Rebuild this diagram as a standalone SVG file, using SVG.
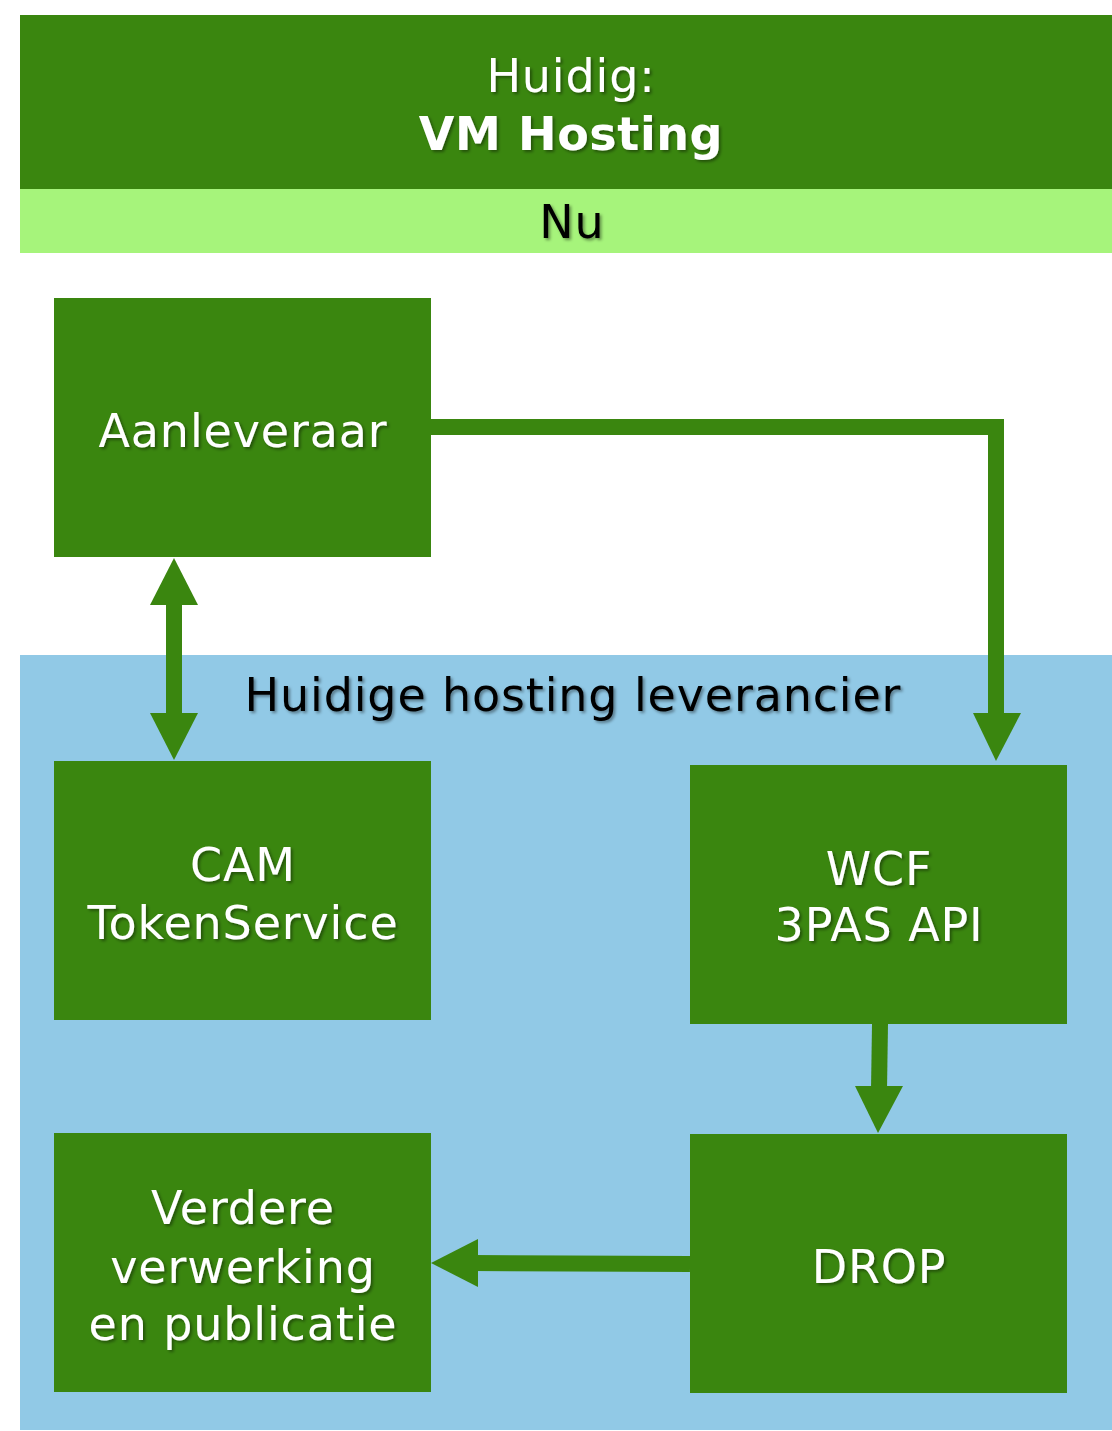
<svg xmlns="http://www.w3.org/2000/svg" width="1112" height="1431" viewBox="0 0 1112 1431">
<style>
.node{fill:#3A860F}
.t{font-family:"DejaVu Sans","Verdana",sans-serif;font-size:46px;fill:#fff;text-anchor:middle;letter-spacing:0.85px;filter:url(#sh)}
.k{fill:#000}
.b{font-weight:bold;letter-spacing:0.6px}
.c{fill:#3A860F}
.ln{stroke:#3A860F;stroke-width:16;fill:none}
</style>
<defs>
<filter id="sh" x="-10%" y="-20%" width="120%" height="150%">
<feDropShadow dx="2" dy="2" stdDeviation="1.5" flood-color="#000" flood-opacity="0.4"/>
</filter>
</defs>
<rect width="1112" height="1431" fill="#fff"/>
<g id="header">
<rect x="20" y="15" width="1092" height="174" fill="#3A860F"/>
<text class="t" x="571" y="92">Huidig:</text>
<text class="t b" x="571" y="150">VM Hosting</text>
</g>
<g id="nu">
<rect x="20" y="189" width="1092" height="64" fill="#A6F47B"/>
<text class="t k" x="572" y="238">Nu</text>
</g>
<g id="container">
<rect x="20" y="655" width="1092" height="775" fill="#91C9E6"/>
<text class="t k" x="573" y="711">Huidige hosting leverancier</text>
</g>
<g id="aanleveraar">
<rect class="node" x="54" y="298" width="377" height="259"/>
<text class="t" x="243" y="447">Aanleveraar</text>
</g>
<g id="cam">
<rect class="node" x="54" y="761" width="377" height="259"/>
<text class="t" x="243" y="881">CAM</text>
<text class="t" x="243" y="939">TokenService</text>
</g>
<g id="wcf">
<rect class="node" x="690" y="765" width="377" height="259"/>
<text class="t" x="879" y="885">WCF</text>
<text class="t" x="879" y="941">3PAS API</text>
</g>
<g id="verdere">
<rect class="node" x="54" y="1133" width="377" height="259"/>
<text class="t" x="243" y="1224">Verdere</text>
<text class="t" x="243" y="1283">verwerking</text>
<text class="t" x="243" y="1340">en publicatie</text>
</g>
<g id="drop">
<rect class="node" x="690" y="1134" width="377" height="259"/>
<text class="t" x="879" y="1283">DROP</text>
</g>
<g id="connectors">
<line class="ln" x1="174" y1="600" x2="174" y2="718"/>
<polygon class="c" points="174,558 198,605 150,605"/>
<polygon class="c" points="174,760 198,713 150,713"/>
<polyline class="ln" points="431,427 996,427 996,718"/>
<polygon class="c" points="996,761 1021,713 973,713"/>
<line class="ln" x1="880" y1="1024" x2="879" y2="1090"/>
<polygon class="c" points="878,1133 903,1086 855,1086"/>
<line class="ln" x1="690" y1="1264" x2="472" y2="1263"/>
<polygon class="c" points="431,1263 478,1239 478,1287"/>
</g>
</svg>
